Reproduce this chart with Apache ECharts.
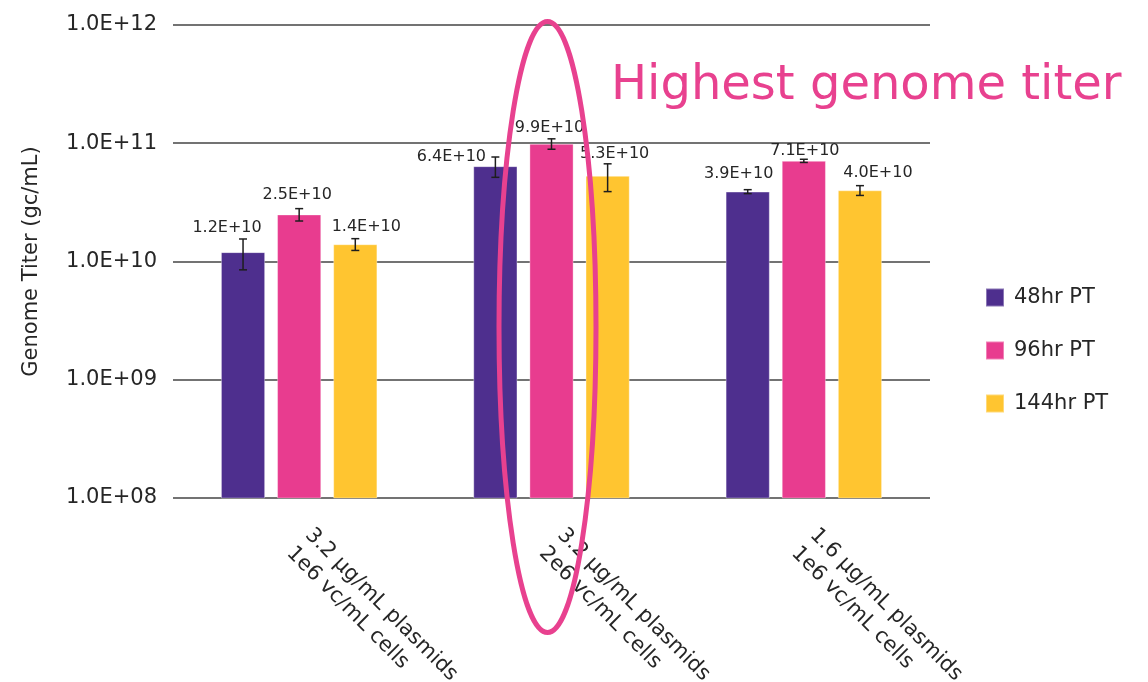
<!DOCTYPE html>
<html>
<head>
<meta charset="utf-8">
<style>
  html, body { margin: 0; padding: 0; background: #ffffff; }
  #chart { width: 1148px; height: 682px; }
</style>
<script src="https://cdn.jsdelivr.net/npm/echarts@6/dist/echarts.min.js"></script>
</head>
<body>
<div id="chart"></div>
<script>
// Transfection conditions (x categories)
const categories = [
  '3.2 µg/mL plasmids\n1e6 vc/mL cells',
  '3.2 µg/mL plasmids\n2e6 vc/mL cells',
  '1.6 µg/mL plasmids\n1e6 vc/mL cells'
];

// Harvest time points (series)
const seriesNames = ['48hr PT', '96hr PT', '144hr PT'];

// Genome titer, gc/mL
const titer48 = [1.2e10, 6.4e10, 3.9e10];
const titer96 = [2.5e10, 9.9e10, 7.1e10];
const titer144 = [1.4e10, 5.3e10, 4.0e10];

// Standard deviation, gc/mL
const err48 = [0.35e10, 1.25e10, 0.15e10];
const err96 = [0.3e10, 1.0e10, 0.22e10];
const err144 = [0.16e10, 1.4e10, 0.38e10];

// Y axis tick labels (log scale, one per decade)
const yTicks = ['1.0E+08', '1.0E+09', '1.0E+10', '1.0E+11', '1.0E+12'];

const values = [titer48, titer96, titer144];
const errors = [err48, err96, err144];
const colors = ['#4E2F8E', '#E83C8F', '#FFC530'];

// Hand-placed value label nudges [dx, dy] in px, per series / category
const labelNudge = [
  [[-16, -11], [-44, 4], [-9, -5]],
  [[-2, -7], [-2, -3], [1, 3]],
  [[11, -4], [7, -9], [18, -4]]
];

const FONT = 'DejaVu Sans';
const CAT_GAP = 0.38;
const BAR_GAP = 0.27;

function sci(v) {
  const e = Math.floor(Math.log10(v) + 1e-9);
  const m = v / Math.pow(10, e);
  return m.toFixed(1) + 'E+' + String(e).padStart(2, '0');
}

const chart = echarts.init(document.getElementById('chart'), null, { renderer: 'canvas' });

const barSeries = seriesNames.map((name, si) => ({
  name: name,
  type: 'bar',
  barGap: (BAR_GAP * 100) + '%',
  barCategoryGap: (CAT_GAP * 100) + '%',
  itemStyle: { color: colors[si], borderColor: 'rgba(255,255,255,0.35)', borderWidth: 1 },
  data: values[si].map((v, ci) => ({
    value: v,
    label: {
      show: true,
      position: 'top',
      offset: labelNudge[si][ci],
      formatter: p => sci(p.value),
      fontFamily: FONT,
      fontSize: 16,
      color: '#262626'
    }
  })),
  z: 2
}));

// Error bars, drawn on top of each bar through the axis scales
const errorSeries = seriesNames.map((name, si) => ({
  name: name + ' error',
  type: 'custom',
  z: 5,
  silent: true,
  data: values[si].map((v, ci) => [ci, v - errors[si][ci], v + errors[si][ci]]),
  renderItem: function (params, api) {
    const ci = api.value(0);
    const lo = api.coord([ci, api.value(1)]);
    const hi = api.coord([ci, api.value(2)]);
    const band = api.size([1, 0])[0];
    const bw = band * (1 - CAT_GAP) / (3 + 2 * BAR_GAP);
    const x = lo[0] + (si - 1) * bw * (1 + BAR_GAP);
    const cap = 4;
    const style = { stroke: '#1e1e1e', lineWidth: 1.5 };
    return {
      type: 'group',
      children: [
        { type: 'line', shape: { x1: x, y1: hi[1], x2: x, y2: lo[1] }, style: style },
        { type: 'line', shape: { x1: x - cap, y1: hi[1], x2: x + cap, y2: hi[1] }, style: style },
        { type: 'line', shape: { x1: x - cap, y1: lo[1], x2: x + cap, y2: lo[1] }, style: style }
      ]
    };
  }
}));

const option = {
  animation: false,
  backgroundColor: '#ffffff',
  textStyle: { fontFamily: FONT },
  grid: {
    left: 173, right: 218, top: 25, bottom: 184,
    containLabel: false,
    outerBoundsMode: 'none'
  },
  legend: {
    data: seriesNames,
    orient: 'vertical',
    left: 980,
    top: 282,
    itemWidth: 18,
    itemHeight: 18,
    itemGap: 32,
    icon: 'rect',
    textStyle: { fontFamily: FONT, fontSize: 21, color: '#262626', padding: [0, 0, 0, 5] }
  },
  xAxis: {
    type: 'category',
    data: categories,
    axisLine: { show: false },
    axisTick: { show: false },
    axisLabel: {
      interval: 0,
      rotate: -45,
      margin: 43,
      fontFamily: FONT,
      fontSize: 21,
      lineHeight: 26,
      color: '#262626'
    }
  },
  yAxis: {
    type: 'log',
    logBase: 10,
    min: 1e8,
    max: 1e12,
    splitNumber: 4,
    name: 'Genome Titer (gc/mL)',
    nameLocation: 'middle',
    nameGap: 131,
    nameTextStyle: { fontFamily: FONT, fontSize: 21, color: '#262626' },
    axisLine: { show: false },
    axisTick: { show: false },
    axisLabel: {
      margin: 16,
      fontFamily: FONT,
      fontSize: 21,
      color: '#262626',
      formatter: v => yTicks[Math.round(Math.log10(v)) - 8]
    },
    splitLine: { show: true, lineStyle: { color: '#444444', width: 1.5 } }
  },
  series: barSeries.concat(errorSeries),
  graphic: [
    {
      type: 'text',
      left: 611,
      top: 63,
      z: 20,
      style: {
        text: 'Highest genome titer',
        fontFamily: FONT,
        fontSize: 48,
        fill: '#E8418F'
      }
    },
    {
      type: 'ellipse',
      z: 20,
      shape: { cx: 547.5, cy: 327, rx: 48.5, ry: 305.5 },
      style: { fill: 'none', stroke: '#E8418F', lineWidth: 5 }
    }
  ]
};

chart.setOption(option);
</script>
</body>
</html>
